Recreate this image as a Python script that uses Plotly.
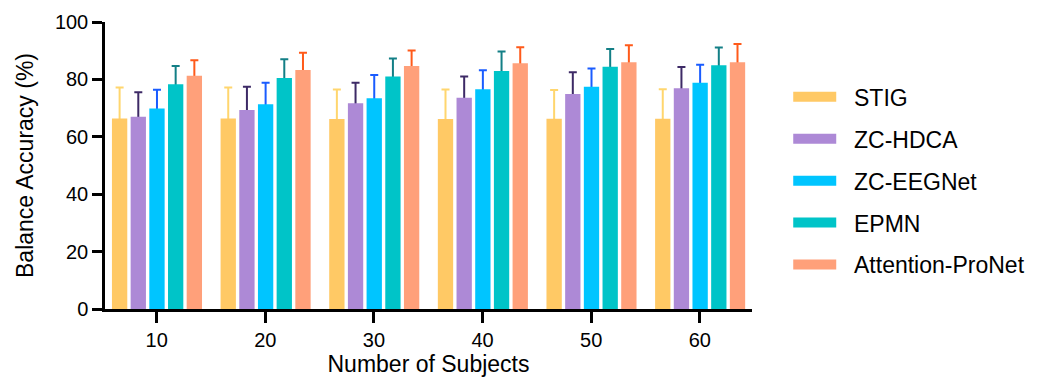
import plotly.graph_objects as go

subjects = ["10", "20", "30", "40", "50", "60"]
methods = ["STIG", "ZC-HDCA", "ZC-EEGNet", "EPMN", "Attention-ProNet"]

stig = [66.4, 66.4, 66.2, 66.2, 66.3, 66.3]
stig_err = [10.8, 10.8, 10.3, 10.3, 10.0, 10.3]
zc_hdca = [67.0, 69.3, 71.7, 73.6, 74.9, 76.9]
zc_hdca_err = [8.5, 8.1, 7.1, 7.4, 7.6, 7.4]
zc_eegnet = [69.9, 71.3, 73.4, 76.6, 77.4, 78.8]
zc_eegnet_err = [6.5, 7.5, 8.1, 6.6, 6.4, 6.3]
epmn = [78.3, 80.5, 81.0, 82.9, 84.4, 84.9]
epmn_err = [6.4, 6.5, 6.3, 6.8, 6.2, 6.2]
attention = [81.3, 83.3, 84.7, 85.6, 86.0, 86.0]
attention_err = [5.4, 6.0, 5.4, 5.6, 5.9, 6.3]

values = [stig, zc_hdca, zc_eegnet, epmn, attention]
errors = [stig_err, zc_hdca_err, zc_eegnet_err, epmn_err, attention_err]
bar_colors = ["#FFC965", "#AD89D6", "#00C5FF", "#00C4C8", "#FFA07A"]
err_colors = ["#FFD66E", "#3D2A66", "#1A5CFF", "#137F86", "#FF5A1A"]

FONT = "Liberation Sans, Arial, Helvetica, sans-serif"

fig = go.Figure()
pitch = 0.172
bw = 0.141
start = -0.412
for i, name in enumerate(methods):
    off = start + i * pitch
    # error bar carrier (transparent), drawn below the real bar
    fig.add_trace(go.Bar(
        x=subjects, y=values[i], width=bw, offset=off,
        marker=dict(color="rgba(0,0,0,0)", line=dict(width=0)),
        error_y=dict(type="data", array=errors[i], symmetric=True,
                     color=err_colors[i], thickness=2, width=4),
        showlegend=False, hoverinfo="skip",
    ))
    fig.add_trace(go.Bar(
        x=subjects, y=values[i], width=bw, offset=off, name=name,
        marker=dict(color=bar_colors[i], line=dict(width=0)),
        showlegend=False,
    ))

for i, name in enumerate(methods):
    fig.add_trace(go.Scatter(
        x=[None], y=[None], mode="lines", name="\u00a0\u00a0" + name,
        line=dict(color=bar_colors[i], width=11),
        legendgroup=name, showlegend=True,
    ))

# page body has an 8px default margin; compensate so the chart fills the window
fig.update_layout(
    width=1035, height=371,
    barmode="overlay",
    plot_bgcolor="white", paper_bgcolor="white",
    font=dict(family=FONT, size=20, color="black"),
    margin=dict(l=97, r=291, t=14, b=70, autoexpand=False),
    legend=dict(x=1.056, xanchor="left", y=0.814, yanchor="top",
                font=dict(size=23, family=FONT, color="black"),
                itemwidth=43, tracegroupgap=9, bgcolor="rgba(0,0,0,0)"),
    xaxis=dict(type="category", range=[-0.476, 5.48], automargin=False,
               showline=True, linecolor="black", linewidth=2.5,
               ticks="outside", ticklen=11, tickwidth=2.5, tickcolor="black",
               showgrid=False, zeroline=False,
               title=dict(text="Number of Subjects", font=dict(size=23), standoff=6),
               tickfont=dict(size=20)),
    yaxis=dict(range=[0, 100], tickvals=[0, 20, 40, 60, 80, 100], automargin=False,
               showline=True, linecolor="black", linewidth=2.5,
               ticks="outside", ticklen=10, tickwidth=2.5, tickcolor="black",
               showgrid=False, zeroline=False,
               title=dict(text="Balance Accuracy (%)", font=dict(size=23), standoff=15),
               tickfont=dict(size=20)),
)

fig.write_html("out.html")
